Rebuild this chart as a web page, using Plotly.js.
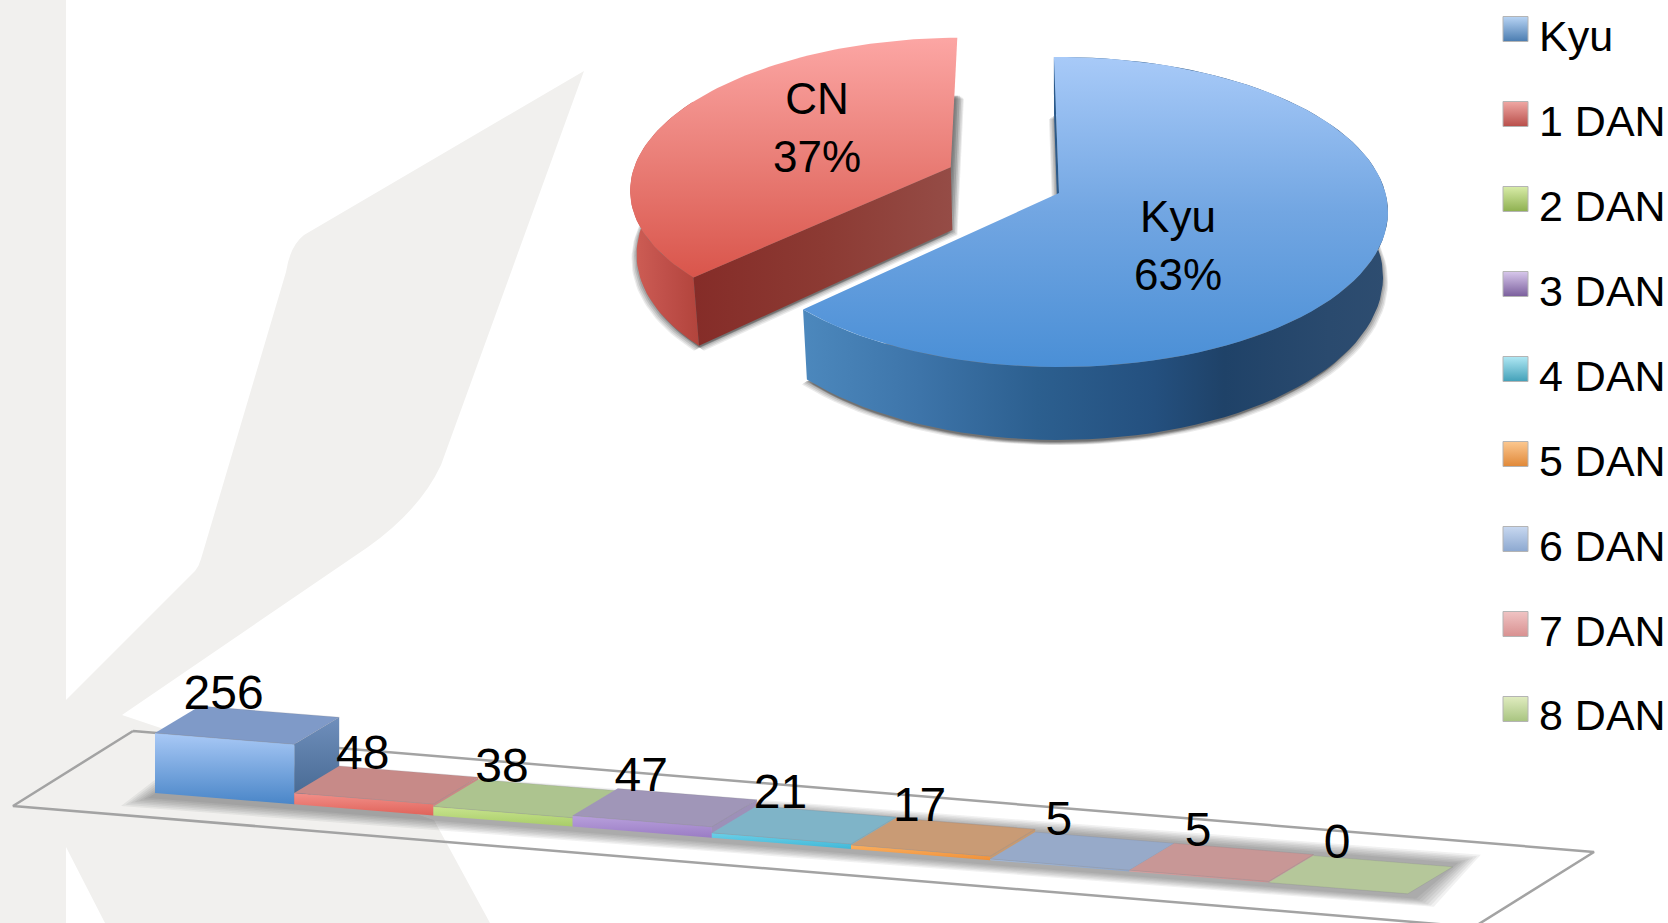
<!DOCTYPE html>
<html>
<head>
<meta charset="utf-8">
<script src="https://cdn.plot.ly/plotly-3.0.1.min.js"></script>
<style>html,body{margin:0;padding:0;background:#fff;overflow:hidden}#chart{width:1668px;height:923px}</style>
</head>
<body>
<div id="chart"></div>
<script>
// ---- data ----
var categories = ["Kyu","1 DAN","2 DAN","3 DAN","4 DAN","5 DAN","6 DAN","7 DAN","8 DAN"];
var counts     = [256,48,38,47,21,17,5,5,0];
var pieLabels  = ["Kyu","CN"];
var piePercent = [63,37];

// ---- styles ----
var FONT = '"Liberation Sans", Arial, sans-serif';
var GREY = '#f1f0ee';
var barTop   = ['#7f9ac8','#c78a88','#adc48f','#a096b8','#7fb4c8','#c99b75','#97aac9','#c89796','#b5c79a'];
var barHi    = ['#a9c9f6','#f2908a','#c8e48e','#b8a0dc','#6cd0e8','#fbb060','#a4bbdc','#d8a0a0','#b5c79a'];
var barLo    = ['#4a86c8','#e0635a','#a8cc68','#9a7cc4','#40b8d8','#f09038','#90a8cc','#d09090','#b5c79a'];
var barSide  = ['#6f8fbc','#c98886','#aac58a','#9d90b8','#80b4c8','#c69a72','#9ab0cc','#c89898','#b5c79a'];
var legendHi = ['#b8d4f4','#f0a8a4','#d8eca8','#d8c8ec','#b0e8f4','#fcc890','#c8d8f0','#f0c4c4','#e0ecc0'];
var legendLo = ['#4a7cb0','#b84e4a','#8eb050','#7a5e9c','#42a0b8','#e08838','#8ca8d0','#d89090','#a8c480'];

// ---- bar-chart oblique projection ----
var BX0=155,BY0=793,BSX=139.2,BSY=11.2,BDX=45,BDY=27,BH=0.234;
function P(i,d,val){return [BX0+i*BSX+d*BDX, BY0+i*BSY-d*BDY-val*BH];}

// ---- pie perspective projection ----
var APX=1059,APY=193,R=326.5,RY=152.7,K=0.1226,H=64,BOT=0.985,TH0=-1,PULLDIR=297;
var piePull=[0,0.38], pieScale=[1,0.99];
function Q(u,v,depth){var w=1-K*v;return [APX+R*u/w*(depth?BOT:1), APY+(RY*v+depth*H)/w];}
function rad(a){return a*Math.PI/180;}

var traces=[];
function poly(pts,o){
  o=o||{};
  var t={x:pts.map(function(p){return p[0];}),y:pts.map(function(p){return p[1];}),
    mode:'lines',fill:'toself',line:{width:o.lw||0,color:o.lc||'rgba(0,0,0,0)'},
    fillcolor:o.color||'rgba(0,0,0,0)',showlegend:false,hoverinfo:'skip'};
  if(o.grad){
    var g=o.gtype||'vertical';
    // the y axis runs downward, so a vertical scale is given from its far end
    var cs=g==='vertical'?o.grad.map(function(s){return [1-s[0],s[1]];}).reverse():o.grad;
    t.fillgradient={type:g,colorscale:cs};
  }
  traces.push(t);
}

// floor outline
(function(){
  var a=[133,731],b=[13,806],c=[1474,927],d=[1594,852];
  traces.push({x:[a[0],b[0],c[0],d[0],a[0]],y:[a[1],b[1],c[1],d[1],a[1]],mode:'lines',
    line:{color:'#a3a3a3',width:2.5},showlegend:false,hoverinfo:'skip'});
})();

// floor shadow
(function(){
  var n=counts.length;
  for(var e=30;e>=4;e-=4){
    var fl=P(0,0,0),fr=P(n,0,0),br=P(n,1,0),bl=P(0,1,0);
    var m=e/30;
    poly([[fl[0]-34*m,fl[1]+3+10*m],[fr[0]+4+22*m,fr[1]+3+10*m],[br[0]+28*m,br[1]-2-10*m],[bl[0]-14*m,bl[1]-10*m]],{color:'rgba(40,40,40,0.065)'});
  }
})();

// bars
counts.forEach(function(v,i){
  var fl=P(i,0,v),fr=P(i+1,0,v),br=P(i+1,1,v),bl=P(i,1,v);
  var fl0=P(i,0,0),fr0=P(i+1,0,0),br0=P(i+1,1,0);
  if(v>0){
    poly([fr,br,br0,fr0],{color:barSide[i],grad:[[0,barSide[i]],[1,i===0?'#44668f':barSide[i]]]});
    poly([fl,fr,fr0,fl0],{color:barHi[i],grad:[[0,barHi[i]],[1,barLo[i]]]});
  }
  poly([fl,fr,br,bl],{color:barTop[i],lw:0.6,lc:'rgba(120,120,130,0.35)'});
});

// pie
var cum=[0];
var pieTotal=piePercent.reduce(function(a,b){return a+b;},0);
piePercent.forEach(function(p,i){cum.push(cum[i]+p/pieTotal);});
function sector(i){
  var a0=TH0+360*cum[i],a1=TH0+360*cum[i+1],sc=pieScale[i];
  var pu=piePull[i]*Math.sin(rad(PULLDIR)),pv=-piePull[i]*Math.cos(rad(PULLDIR));
  var top=[],bot=[];
  for(var a=a0;a<=a1+1e-6;a+=(a1-a0)/90){
    var u=pu+sc*Math.sin(rad(a)),v=pv-sc*Math.cos(rad(a));
    top.push(Q(u,v,0));bot.push(Q(u,v,1));
  }
  return {top:top,bot:bot,apT:Q(pu,pv,0),apB:Q(pu,pv,1)};
}
var sKyu=sector(0),sCN=sector(1);
function shift(pts,dx,dy){return pts.map(function(p){return [p[0]+dx,p[1]+dy];});}
function pieShadow(s){
  var base=[s.apB].concat(s.bot);
  [[5,5,0.10],[4,4,0.12],[2.5,3,0.16],[1,2,0.2]].forEach(function(o){
    poly(shift(base,o[0],o[1]),{color:'rgba(60,60,60,'+o[2]+')'});
    poly(shift(base,-o[0],o[1]),{color:'rgba(60,60,60,'+o[2]+')'});
  });
}
pieShadow(sCN);pieShadow(sKyu);

// CN slice: only the front part of the rim wall can be seen
var cnVis=50;
poly(sCN.top.slice(0,cnVis).concat(sCN.bot.slice(0,cnVis).reverse()),{color:'#c0504a',grad:[[0,'#cf5f56'],[0.5,'#c0504a'],[1,'#b2443c']],gtype:'horizontal'});
poly([sCN.top[0],sCN.apT,sCN.apB,sCN.bot[0]],{color:'#8a352f',grad:[[0,'#852c28'],[0.5,'#8c3a33'],[1,'#954c46']],gtype:'horizontal'});
poly([sCN.apT].concat(sCN.top),{color:'#e0655a',grad:[[0,'#fca6a4'],[0.5,'#ea7f78'],[1,'#d9554b']]});

// Kyu slice
poly(sKyu.top.concat(sKyu.bot.slice().reverse()),{color:'#2a5a8a',grad:[[0,'#4c88bd'],[0.2,'#3d74a9'],[0.4,'#2c5f8f'],[0.6,'#24507f'],[0.72,'#1f4268'],[0.9,'#2a4a6e'],[1,'#2e4d70']],gtype:'horizontal'});
poly([sKyu.top[0],sKyu.apT,sKyu.apB,sKyu.bot[0]],{color:'#2c5a8a'});
poly([sKyu.apT].concat(sKyu.top),{color:'#6ea0de',grad:[[0,'#a8caf8'],[0.5,'#72a6e2'],[1,'#4a8fd6']]});

// value labels
traces.push({
  x:counts.map(function(v,i){return P(i,0.5,v)[0]+69.6-23.5;}),
  y:counts.map(function(v,i){return P(i,0.5,v)[1]+5.6-28.5;}),
  text:counts.map(String),mode:'text',textposition:'middle center',
  textfont:{family:FONT,size:48,color:'#000'},showlegend:false,hoverinfo:'skip',cliponaxis:false
});

// pie labels
var pieLabelX=[1178,817],pieLabelY=[250,132];
traces.push({
  x:pieLabelX,y:pieLabelY,
  text:pieLabels.map(function(l,i){return l+'<br>'+piePercent[i]+'%';}),
  mode:'text',textposition:'middle center',
  textfont:{family:FONT,size:44,color:'#000'},showlegend:false,hoverinfo:'skip'
});

// legend swatches (large squares) and legend entries (text)
var LEGX=1515.5,LEGY0=29,LEGSTEP=85;
categories.forEach(function(c,i){
  traces.push({x:[LEGX],y:[LEGY0+i*LEGSTEP],mode:'markers',showlegend:false,hoverinfo:'skip',
    marker:{symbol:'square',size:25,color:legendHi[i],gradient:{type:'vertical',color:legendLo[i]},line:{color:'#b4b4b4',width:1}}});
  traces.push({x:[null],y:[null],name:c,mode:'markers',legendgroup:c,
    marker:{symbol:'square',size:12,color:'rgba(0,0,0,0)',line:{width:0}},hoverinfo:'skip'});
});

var layout={
  width:1668,height:923,
  margin:{l:0,r:0,t:0,b:0,pad:0,autoexpand:false},
  paper_bgcolor:'#fff',plot_bgcolor:'rgba(0,0,0,0)',
  showlegend:true,
  legend:{x:1499/1668,y:1,xanchor:'left',yanchor:'top',bgcolor:'rgba(0,0,0,0)',
    font:{family:FONT,size:43,color:'#000'},tracegroupgap:26,itemsizing:'constant',traceorder:'grouped',borderwidth:0},
  xaxis:{range:[0,1668],visible:false,fixedrange:true},
  yaxis:{range:[923,0],visible:false,fixedrange:true},
  shapes:[
    {type:'rect',xref:'x',yref:'y',x0:0,x1:66,y0:0,y1:923,fillcolor:GREY,line:{width:0},layer:'below'},
    {type:'path',xref:'x',yref:'y',layer:'below',fillcolor:GREY,line:{width:0},
     path:'M66,700 L195,571 Q199,566 201,559 L286,272 Q290,246 304,235 L584,71 L441,465 Q420,510 368,547 L122,715 L434,820 L490,923 L105,923 L66,847 Z'}
  ]
};
Plotly.newPlot('chart',traces,layout,{displayModeBar:false,staticPlot:true});
</script>
</body>
</html>
